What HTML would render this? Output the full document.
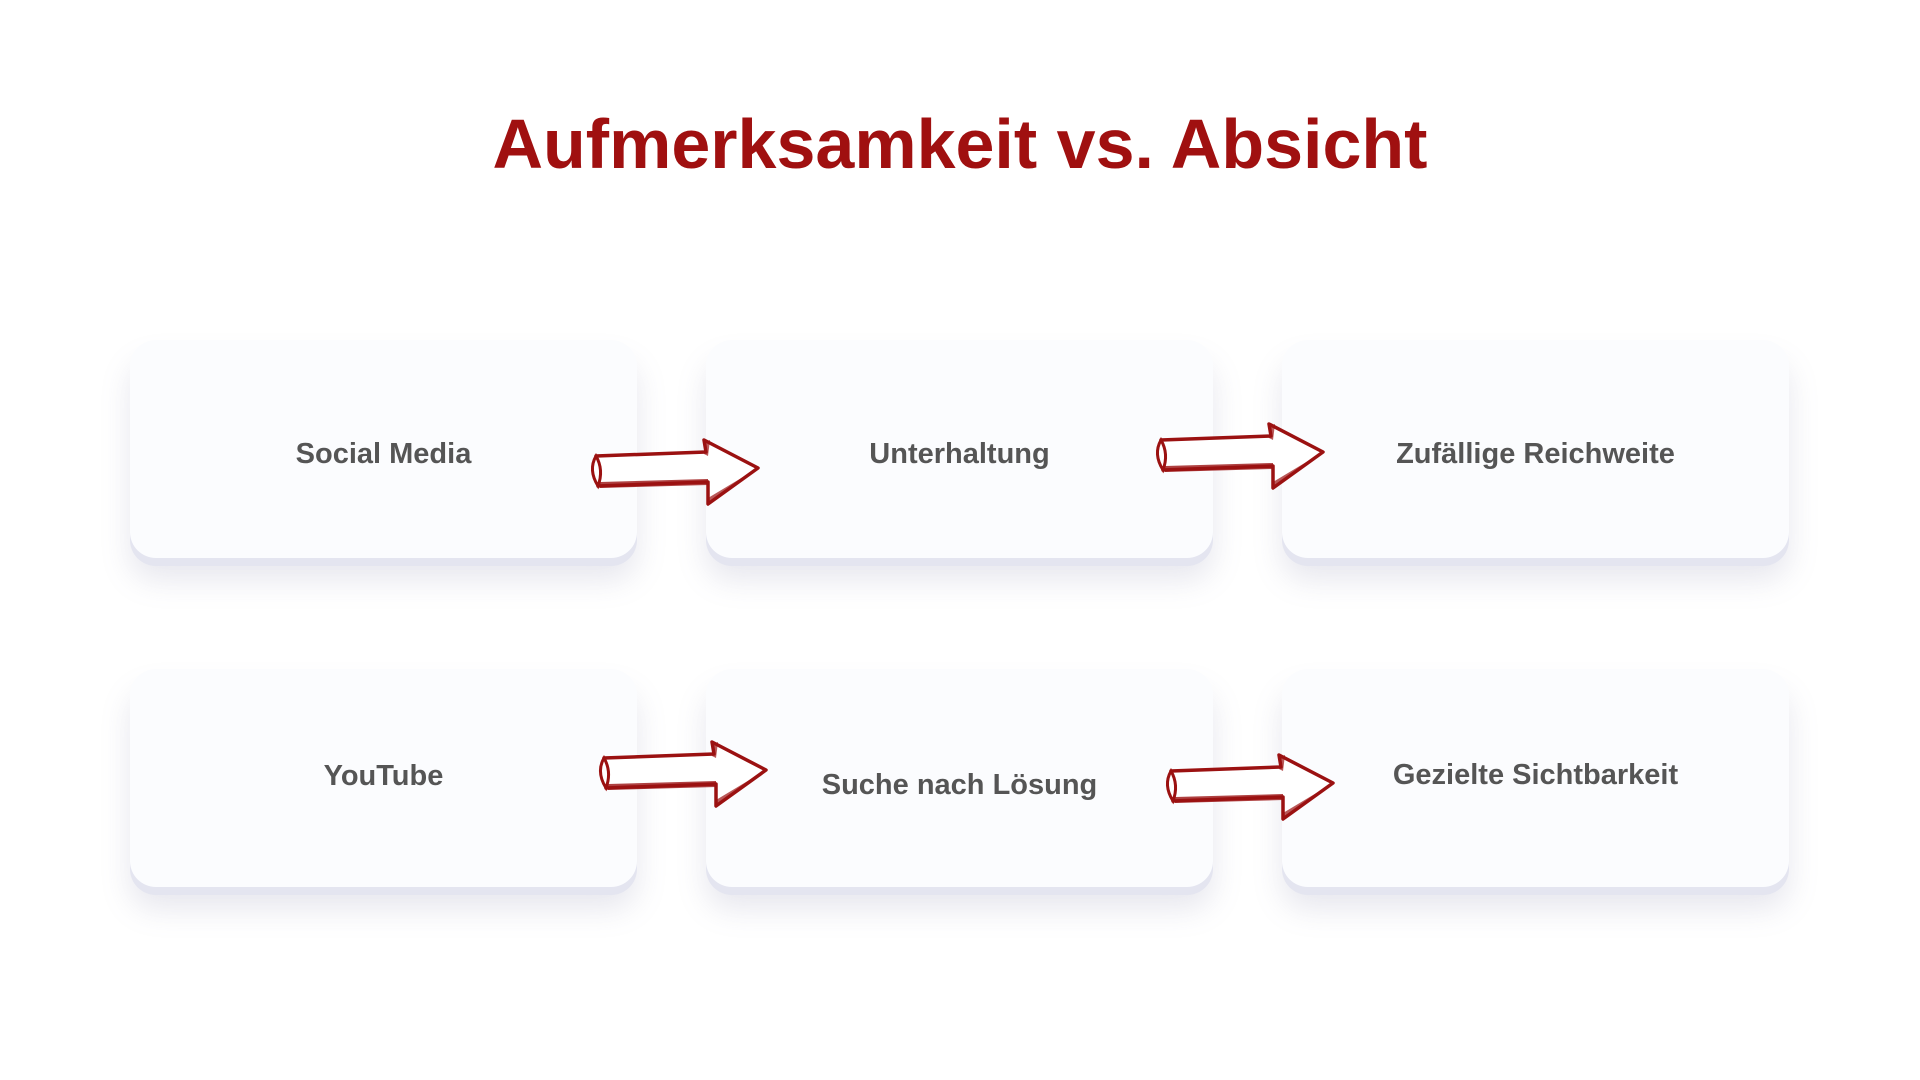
<!DOCTYPE html>
<html><head><meta charset="utf-8"><style>
html,body{margin:0;padding:0;background:#fff;width:1920px;height:1080px;overflow:hidden;position:relative;font-family:"Liberation Sans",sans-serif}
h1{position:absolute;left:0;width:1920px;top:104px;margin:0;text-align:center;font-size:70px;font-weight:700;color:#a01010;letter-spacing:0px}
.card{position:absolute;width:507px;height:218px;background:#fbfcfe;border-radius:26px;box-shadow:0 8px 0 #e4e5f0,0 22px 30px rgba(120,120,160,0.18);}
.lbl{position:absolute;width:507px;text-align:center;font-size:29px;font-weight:700;color:#555;}
svg.ar{position:absolute;overflow:visible}
</style></head><body>
<h1>Aufmerksamkeit vs. Absicht</h1>

<div class="card" style="left:130px;top:340px"></div>
<div class="card" style="left:706px;top:340px"></div>
<div class="card" style="left:1282px;top:340px"></div>
<div class="card" style="left:130px;top:669px"></div>
<div class="card" style="left:706px;top:669px"></div>
<div class="card" style="left:1282px;top:669px"></div>

<div class="lbl" style="left:130px;top:438px">Social Media</div>
<div class="lbl" style="left:706px;top:438px">Unterhaltung</div>
<div class="lbl" style="left:1282px;top:438px">Zufällige Reichweite</div>
<div class="lbl" style="left:130px;top:760px">YouTube</div>
<div class="lbl" style="left:706px;top:769px">Suche nach Lösung</div>
<div class="lbl" style="left:1282px;top:759px">Gezielte Sichtbarkeit</div>

<svg width="0" height="0" style="position:absolute"><defs>
<g id="arw">
<path d="M8 18 L118 14 L116 2 L170 30 L120 66 L120 44 L10 48 Z" fill="#fff" stroke="#9b1111" stroke-width="3.5" stroke-linejoin="round"/>
<path d="M8 18 Q0 32 10 48 Q16 32 8 18Z" fill="#fff" stroke="#9b1111" stroke-width="3"/>
<path d="M12 44 L120 41 L120 47 L12 50Z" fill="#9b1111" opacity="0.8"/>
<path d="M120 60 L160 36 L166 34 L122 66Z" fill="#9b1111" opacity="0.7"/>
<path d="M116 4 L122 2 L120 18 L116 16Z" fill="#9b1111" opacity="0.7"/>
</g></defs></svg>

<svg class="ar" style="left:588px;top:438px" width="170" height="68"><use href="#arw"/></svg>
<svg class="ar" style="left:1153px;top:422px" width="170" height="68"><use href="#arw"/></svg>
<svg class="ar" style="left:596px;top:740px" width="170" height="68"><use href="#arw"/></svg>
<svg class="ar" style="left:1163px;top:753px" width="170" height="68"><use href="#arw"/></svg>
</body></html>
